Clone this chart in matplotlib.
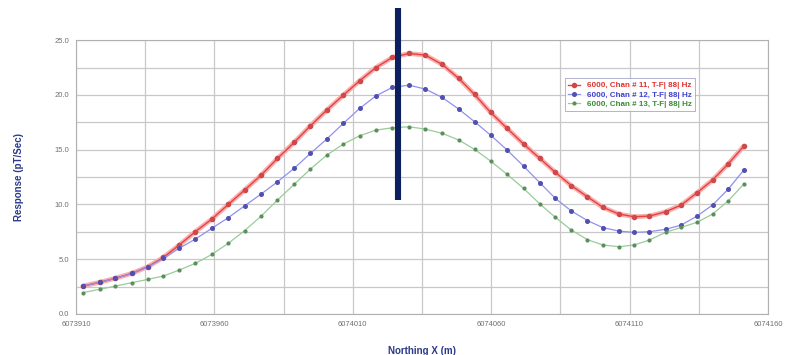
import matplotlib
matplotlib.use("Agg")
import matplotlib.pyplot as plt
from matplotlib.ticker import MultipleLocator, FixedLocator, FuncFormatter

plt.rcParams['font.family'] = ['Liberation Sans', 'DejaVu Sans']

# Station northings (m)
northing = [
    6073912.5, 6073918.5, 6073924.2, 6073930.2, 6073936.0, 6073941.6, 6073947.3,
    6073953.1, 6073959.1, 6073965.0, 6073970.9, 6073976.9, 6073982.8, 6073988.8,
    6073994.7, 6074000.6, 6074006.6, 6074012.5, 6074018.4, 6074024.3, 6074030.3,
    6074036.2, 6074042.3, 6074048.3, 6074054.0, 6074059.8, 6074065.8, 6074071.7,
    6074077.6, 6074083.2, 6074089.0, 6074094.8, 6074100.4, 6074106.2, 6074111.6,
    6074117.2, 6074123.0, 6074128.7, 6074134.4, 6074140.0, 6074145.6, 6074151.3,
]

# Response (pT/Sec) per channel
chan11 = [
    2.55, 2.89, 3.26, 3.71, 4.32, 5.17, 6.30, 7.51, 8.67, 10.0,
    11.31, 12.68, 14.2, 15.66, 17.18, 18.61, 19.98, 21.29, 22.5, 23.42,
    23.78, 23.63, 22.78, 21.5, 20.04, 18.4, 16.94, 15.51, 14.2, 12.93,
    11.71, 10.7, 9.73, 9.12, 8.88, 8.94, 9.33, 9.95, 11.07, 12.23,
    13.69, 15.33,
]
chan12 = [
    2.55, 2.88, 3.25, 3.7, 4.3, 5.08, 6.0, 6.84, 7.82, 8.79,
    9.87, 10.95, 12.07, 13.29, 14.66, 15.97, 17.4, 18.77, 19.92, 20.68,
    20.89, 20.53, 19.77, 18.7, 17.55, 16.33, 14.96, 13.5, 11.98, 10.55,
    9.4, 8.53, 7.88, 7.57, 7.45, 7.51, 7.73, 8.12, 8.94, 9.95,
    11.38, 13.14,
]
chan13 = [
    1.95, 2.25, 2.55, 2.86, 3.16, 3.47, 4.01, 4.62, 5.44, 6.45,
    7.6, 8.94, 10.4, 11.83, 13.23, 14.5, 15.51, 16.27, 16.79, 17.0,
    17.09, 16.88, 16.49, 15.88, 15.03, 13.96, 12.74, 11.47, 10.04, 8.82,
    7.66, 6.78, 6.3, 6.14, 6.3, 6.75, 7.45, 7.91, 8.37, 9.12,
    10.31, 11.86,
]
labels = [
    "6000, Chan # 11, T-F| 88| Hz",
    "6000, Chan # 12, T-F| 88| Hz",
    "6000, Chan # 13, T-F| 88| Hz",
]
x_ticks = [6073910, 6073960, 6074010, 6074060, 6074110, 6074160]
x_minor = [6073935, 6073985, 6074035, 6074085, 6074135]

# vertical marker line (northing, response range)
marker_x = 6074026.4
marker_y = (10.4, 27.9)

fig = plt.figure(figsize=(7.86, 3.55), dpi=100)
ax = fig.add_axes([0.0967, 0.1155, 0.8803, 0.7715])

ax.set_xlim(x_ticks[0], x_ticks[-1])
ax.set_ylim(0, 25)

ax.xaxis.set_major_locator(FixedLocator(x_ticks))
ax.xaxis.set_minor_locator(FixedLocator(x_minor))
ax.yaxis.set_major_locator(MultipleLocator(5))
ax.yaxis.set_minor_locator(MultipleLocator(2.5))
ax.xaxis.set_major_formatter(FuncFormatter(lambda v, p: "%d" % round(v)))
ax.yaxis.set_major_formatter(FuncFormatter(lambda v, p: "%.1f" % v))

ax.grid(True, which='both', color='#c8c8c8', linewidth=0.9)
ax.set_axisbelow(True)
for s in ax.spines.values():
    s.set_color('#b0b0b0')
    s.set_linewidth(0.8)
ax.tick_params(which='both', length=0, labelsize=5.5, labelcolor='#707070', pad=5)

# red channel: thick pale halo under a thinner line
ax.plot(northing, chan11, color='#f8b0b0', linewidth=3.4, solid_capstyle='round', zorder=2)
l1, = ax.plot(northing, chan11, color='#e84040', linewidth=1.0, marker='o', markersize=3.0,
              markerfacecolor='#d04848', markeredgecolor='#d04848', label=labels[0], zorder=3)
l2, = ax.plot(northing, chan12, color='#9090f0', linewidth=0.9, marker='o', markersize=2.6,
              markerfacecolor='#5050b0', markeredgecolor='#5050b0', label=labels[1], zorder=3)
l3, = ax.plot(northing, chan13, color='#98cc98', linewidth=0.9, marker='o', markersize=2.0,
              markerfacecolor='#5a8f5a', markeredgecolor='#5a8f5a', label=labels[2], zorder=3)

leg = ax.legend(handles=[l1, l2, l3], loc='upper left', bbox_to_anchor=(0.707, 0.86),
                prop={'size': 5.8, 'weight': 'bold'}, frameon=True, fancybox=False,
                borderpad=0.4, handlelength=1.5, labelspacing=0.2, borderaxespad=0)
leg.get_frame().set_edgecolor('#9090c0')
leg.get_frame().set_linewidth(0.6)
for t, c in zip(leg.get_texts(), ['#e03030', '#4040d0', '#3a8a3a']):
    t.set_color(c)

ax.plot([marker_x, marker_x], marker_y, color='#0c1f5e', linewidth=4.4,
        solid_capstyle='butt', clip_on=False, zorder=5)

ax.set_xlabel('Northing X (m)', fontsize=7, color='#2a3a8a', fontweight='bold', labelpad=13)
ax.set_ylabel('Response (pT/Sec)', fontsize=7, color='#2a3a8a', fontweight='bold', labelpad=22)

fig.savefig('out.png', dpi=100)
